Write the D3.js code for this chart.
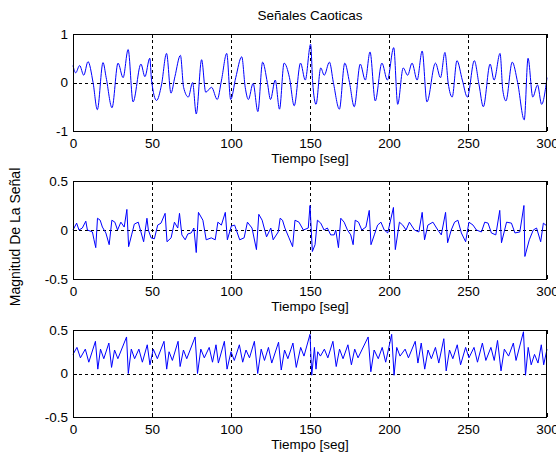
<!DOCTYPE html>
<html><head><meta charset="utf-8">
<script src="https://cdn.jsdelivr.net/npm/d3@7"></script>
<style>body{margin:0;background:#fff}svg{display:block}text{font-family:Arial,"Liberation Sans",sans-serif;fill:#000}</style>
</head><body><svg id="c" width="556" height="454"></svg>
<script>
const xTicks = [0, 50, 100, 150, 200, 250, 300];
const yTicksTop = [-1, 0, 1];
const yTicksSmall = [-0.5, 0, 0.5];
const title = "Señales Caoticas";
const xLabel = "Tiempo [seg]";
const yLabel = "Magnitud De La Señal";

// Signal 1 (t, value)
const t1 = [0,1.7,4.2,6.8,9.5,12.7,15.4,19,21,24.7,28.5,31.7,34.9,38,43,45.5,48.6,49.7,52.9,56,59.2,62,64.5,68,70,73,75.7,78,81.4,84,87.7,91.3,94,97.3,99.8,103,106.8,109,111,114,117,120,123,125,128,130.7,133.6,137,140,144,147,150.4,151.7,153.8,156.8,159,162.3,164.8,168.6,172,175,178,181.8,185,188,191.3,195.5,199,203,205.5,209,211.8,214.6,217.8,221,224,229.4,232.6,235.4,237.5,240,243,246.4,249.6,254,257,259.7,264,266.5,270.3,272,274,278,281.4,285.6,288,291,294,296.6,300];
const v1 = [0.35,0.2,0.35,0.15,0.43,0.0,-0.56,0.41,0.1,-0.52,0.4,0.1,0.68,-0.4,0.38,0.12,0.5,0.05,-0.37,-0.05,0.6,-0.22,0.12,0.56,-0.1,-0.3,0.0,-0.65,0.47,-0.2,-0.1,-0.35,0.05,0.6,-0.35,0.1,0.53,-0.1,-0.35,-0.02,-0.6,0.42,0.0,-0.35,0.05,-0.55,0.4,0.1,-0.48,0.4,0.05,0.79,0.0,-0.45,0.3,0.15,0.42,0.0,-0.55,0.4,0.0,-0.5,0.38,0.05,0.63,-0.38,0.4,0.05,0.72,-0.45,0.3,0.15,0.4,0.05,0.65,-0.4,0.4,0.1,0.62,-0.02,-0.3,0.45,0.05,-0.3,0.45,-0.05,-0.5,0.38,0.05,0.6,-0.15,-0.38,0.42,0.0,-0.77,0.5,-0.3,-0.05,-0.45,0.1];

// Signal 2
const t2 = [0,2.3,3.8,5.9,8.1,9.1,12.3,13.3,14.4,15.5,17.2,18.6,20.8,22.9,24.6,26.5,28.2,30.3,32.4,34.1,35.2,37.1,38.8,41.3,43,44.7,46.8,47.7,49.4,51.5,53.6,55.7,58.3,59.5,62.1,64.2,66.3,67.4,68.9,71,72.7,74.8,76.5,78,79.4,82.2,84.3,87.5,90,91.7,93.9,96.4,97.7,100.2,102.3,105.5,108.3,110.4,113.3,116.1,117.6,119.7,122.5,125.2,126.7,129.9,131.1,132.6,134.1,136.7,139,140.5,143,145.8,148.9,150,151.5,153.2,154.7,156.8,158.9,161,163.1,165.3,166.3,168,169.5,171.6,173.7,175.8,177.3,178.6,180.7,182.8,185.4,187.5,188.6,190.7,192.8,194.9,197,199.2,202.8,204,206.6,208.7,210.8,212.9,216.1,218.9,221,222.5,224.6,227.8,230.9,233.1,235.8,237.1,239.4,241.5,243.6,245.8,248.5,250.6,253.2,255.3,258.5,260.6,262.7,264.8,267.6,270.1,271.2,274.4,277.5,279.7,282.8,285.4,286,288.8,291.3,293.4,296,297.7,300];
const v2 = [0.0,0.07,0.0,0.02,0.09,0.0,-0.02,-0.1,-0.18,0.12,0.1,0.03,-0.03,-0.15,0.1,0.08,0.0,0.08,0.03,0.21,-0.17,-0.05,0.06,0.08,-0.02,-0.12,0.12,0.0,-0.08,-0.09,0.05,0.07,0.17,-0.12,-0.08,0.08,0.02,0.17,-0.05,-0.1,-0.04,-0.03,0.02,-0.23,0.18,0.1,-0.1,-0.08,-0.1,0.08,0.05,0.18,-0.1,0.04,0.05,-0.1,-0.08,0.08,0.02,-0.2,0.16,0.1,-0.07,0.02,-0.1,-0.02,0.12,0.1,0.02,-0.08,-0.17,0.1,0.08,0.0,0.02,0.25,-0.22,-0.15,0.1,0.07,0.0,0.02,-0.05,-0.05,0.0,-0.18,0.12,0.08,0.0,-0.05,-0.15,0.1,0.08,0.0,0.03,0.2,-0.15,-0.05,0.05,0.08,0.0,-0.03,0.23,-0.2,0.08,0.05,0.0,0.08,0.0,-0.02,0.18,-0.1,0.05,0.08,0.0,-0.05,0.18,-0.13,0.0,0.08,0.1,-0.03,-0.12,0.08,0.05,0.0,-0.02,0.08,0.07,-0.03,-0.05,0.2,-0.13,0.08,0.07,-0.03,-0.02,0.25,-0.27,-0.1,0.0,0.02,-0.12,0.07,0.04];

// Signal 3
const t3 = [0,2.5,4.7,7.8,10,14.2,15.7,17.4,19.5,22.7,24.4,26.3,28.4,33.9,35,36.9,39,41.7,43.9,47,48.7,50.8,53.4,57.6,59.3,60.8,62.9,66.5,67.8,69.9,72,77.3,78.8,80.9,83.1,86.2,88.3,90.5,92,95.8,97.5,100,102.1,105.3,107.4,109.5,111.7,114.8,116.9,119.1,121.2,123.7,125.8,130.1,131.8,133.9,136,139.2,141.3,144.1,146.2,150,151.1,152.8,153.8,154.9,156.6,159.1,161.3,164.5,166.6,168.7,170.9,174,176.2,178.3,180.4,186.8,188.5,190.6,193.2,195.7,197.9,201.7,203.2,204.9,207,210.2,212.3,216.6,218.3,220.4,222.6,224.7,226.8,229.4,231.5,234.7,236.2,238.3,240.4,243.2,245.3,248.5,250.6,253.8,256,259.1,261.3,264.5,266.6,268.7,270.9,273,275.7,278.7,280.4,285.1,286.4,288.1,290,292.1,294.3,296.4,297.9,300];
const v3 = [0.22,0.3,0.18,0.28,0.13,0.37,0.05,0.28,0.17,0.35,0.07,0.27,0.17,0.42,0.0,0.28,0.17,0.28,0.13,0.33,0.1,0.28,0.17,0.37,0.05,0.25,0.15,0.37,0.08,0.27,0.17,0.42,0.0,0.28,0.18,0.3,0.13,0.33,0.12,0.37,0.05,0.25,0.15,0.33,0.13,0.27,0.18,0.37,0.0,0.28,0.15,0.3,0.12,0.36,0.04,0.27,0.17,0.35,0.07,0.3,0.2,0.45,-0.02,0.3,0.05,0.25,0.2,0.28,0.18,0.37,0.08,0.28,0.17,0.33,0.1,0.28,0.18,0.42,0.02,0.27,0.17,0.3,0.13,0.45,-0.02,0.3,0.2,0.28,0.18,0.37,0.12,0.35,0.05,0.27,0.17,0.3,0.12,0.4,0.03,0.27,0.17,0.33,0.1,0.3,0.18,0.3,0.13,0.35,0.15,0.3,0.15,0.38,0.03,0.28,0.2,0.35,0.15,0.48,-0.02,0.3,0.1,0.22,0.12,0.33,0.1,0.28];

const FS = "13.5px";
const svg = d3.select("#c");
const L = 73, R = 547;
const panels = [
  {top:34, bot:131, dom:[-1,1], ticks:yTicksTop, t:t1, v:v1, curve:d3.curveMonotoneX},
  {top:181, bot:279, dom:[-0.5,0.5], ticks:yTicksSmall, t:t2, v:v2, curve:d3.curveLinear},
  {top:330, bot:417, dom:[-0.5,0.5], ticks:yTicksSmall, t:t3, v:v3, curve:d3.curveLinear}
];
const x = d3.scaleLinear().domain([0,300]).range([L,R]);

panels.forEach(p => {
  const y = d3.scaleLinear().domain(p.dom).range([p.bot,p.top]);
  const g = svg.append("g");
  g.selectAll(".gx").data(xTicks.filter(d=>d>0&&d<300)).join("line")
    .attr("x1",d=>Math.round(x(d))+0.5).attr("x2",d=>Math.round(x(d))+0.5).attr("y1",p.top).attr("y2",p.bot)
    .attr("stroke","#000").attr("stroke-width",1).attr("stroke-dasharray","3,3").attr("shape-rendering","crispEdges");
  g.selectAll(".gy").data(p.ticks.filter(d=>d>p.dom[0]&&d<p.dom[1])).join("line")
    .attr("y1",d=>Math.round(y(d))+0.5).attr("y2",d=>Math.round(y(d))+0.5).attr("x1",L).attr("x2",R)
    .attr("stroke","#000").attr("stroke-width",1).attr("stroke-dasharray","3,3").attr("shape-rendering","crispEdges");
  const pts = p.t.map((t,i)=>[t,p.v[i]]);
  g.append("path").datum(pts)
    .attr("d", d3.line().x(d=>x(d[0])).y(d=>y(d[1])).curve(p.curve))
    .attr("fill","none").attr("stroke","#0000ff").attr("stroke-width",1);
  const gb = g.append("g").attr("transform",`translate(0,${p.bot})`)
    .call(d3.axisBottom(x).tickValues(xTicks).tickSizeInner(-4).tickSizeOuter(0).tickPadding(7).tickFormat(d=>String(d)));
  const gt = g.append("g").attr("transform",`translate(0,${p.top})`)
    .call(d3.axisTop(x).tickValues(xTicks).tickSizeInner(-4).tickSizeOuter(0).tickFormat(""));
  const gl = g.append("g").attr("transform",`translate(${L},0)`)
    .call(d3.axisLeft(y).tickValues(p.ticks).tickSizeInner(-4).tickSizeOuter(0).tickPadding(5).tickFormat(d=>String(d)));
  const gr = g.append("g").attr("transform",`translate(${R},0)`)
    .call(d3.axisRight(y).tickValues(p.ticks).tickSizeInner(-4).tickSizeOuter(0).tickFormat(""));
  [gb,gt,gl,gr].forEach(a=>{
    a.select(".domain").remove();
    a.selectAll("line").attr("stroke","#000").attr("shape-rendering","crispEdges");
    a.selectAll("text").attr("font-size",FS).attr("font-family","Arial, 'Liberation Sans', sans-serif").attr("fill","#000");
  });
  g.append("rect").attr("x",L+0.5).attr("y",p.top+0.5).attr("width",R-L-1).attr("height",p.bot-p.top)
    .attr("fill","none").attr("stroke","#000").attr("shape-rendering","crispEdges");
  g.append("text").attr("x",(L+R)/2).attr("y",p.bot+32).attr("text-anchor","middle").attr("font-size",FS).text(xLabel);
});

svg.append("text").attr("x",(L+R)/2).attr("y",20).attr("text-anchor","middle").attr("font-size",FS).text(title);
svg.append("text").attr("transform","translate(20,237) rotate(-90)").attr("text-anchor","middle").attr("font-size","14px").text(yLabel);
</script></body></html>
